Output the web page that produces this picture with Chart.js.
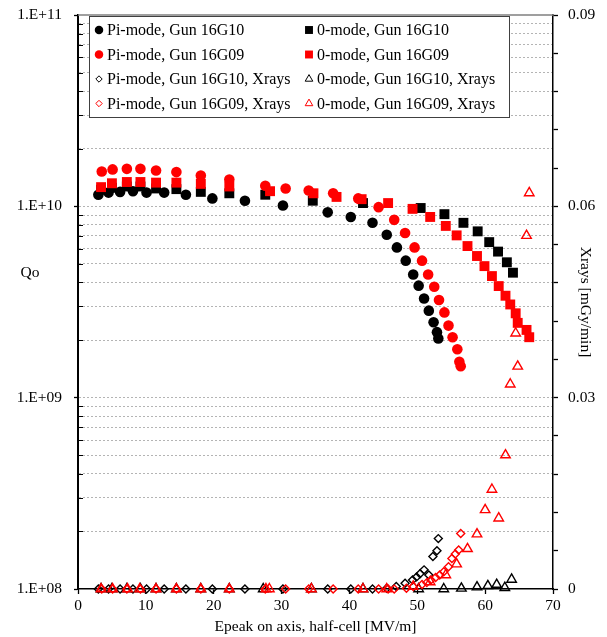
<!DOCTYPE html>
<html>
<head>
<meta charset="utf-8">
<title>Qo and Xrays vs Epeak</title>
<script src="https://cdn.jsdelivr.net/npm/chart.js@4.4.0/dist/chart.umd.min.js"></script>
<style>
  html, body { margin: 0; padding: 0; background: #fff; }
</style>
</head>
<body>
<canvas id="myChart" width="607" height="637"></canvas>
<script>
// Epeak [MV/m] and Qo, pi-mode, gun 16G10
const piG10E = [3.0, 4.5, 6.2, 8.1, 10.1, 12.7, 15.9, 19.8, 24.6, 30.2, 36.8, 40.2, 43.4, 45.5, 47.0, 48.3, 49.4, 50.2, 51.0, 51.7, 52.4, 52.9, 53.1];
const piG10Q = [1.15e10, 1.18e10, 1.19e10, 1.20e10, 1.18e10, 1.18e10, 1.15e10, 1.10e10, 1.07e10, 1.01e10, 9.3e9, 8.8e9, 8.2e9, 7.1e9, 6.1e9, 5.2e9, 4.4e9, 3.85e9, 3.3e9, 2.85e9, 2.48e9, 2.2e9, 2.04e9];

// pi-mode, gun 16G09
const piG09E = [3.5, 5.1, 7.2, 9.2, 11.5, 14.5, 18.1, 22.3, 27.6, 30.6, 34.0, 37.6, 41.3, 44.3, 46.6, 48.2, 49.6, 50.7, 51.6, 52.5, 53.2, 54.0, 54.6, 55.2, 55.9, 56.2, 56.4];
const piG09Q = [1.52e10, 1.56e10, 1.57e10, 1.57e10, 1.54e10, 1.51e10, 1.45e10, 1.38e10, 1.28e10, 1.24e10, 1.21e10, 1.17e10, 1.10e10, 9.9e9, 8.5e9, 7.25e9, 6.1e9, 5.2e9, 4.4e9, 3.8e9, 3.24e9, 2.79e9, 2.38e9, 2.07e9, 1.79e9, 1.54e9, 1.46e9];

// 0-mode, gun 16G10
const zeroG10E = [3.4, 5.0, 7.2, 9.2, 11.5, 14.5, 18.1, 22.3, 27.6, 34.6, 42.0, 50.5, 54.0, 56.8, 58.9, 60.6, 61.9, 63.2, 64.1];
const zeroG10Q = [1.22e10, 1.25e10, 1.27e10, 1.27e10, 1.24e10, 1.23e10, 1.19e10, 1.17e10, 1.15e10, 1.07e10, 1.04e10, 9.8e9, 9.1e9, 8.2e9, 7.4e9, 6.5e9, 5.8e9, 5.1e9, 4.5e9];

// 0-mode, gun 16G09
const zeroG09E = [3.4, 5.0, 7.2, 9.2, 11.5, 14.5, 18.1, 22.3, 28.3, 34.7, 38.1, 41.8, 45.7, 49.3, 51.9, 54.2, 55.8, 57.4, 58.8, 59.9, 61.0, 62.0, 63.0, 63.7, 64.5, 64.8, 66.1, 66.5];
const zeroG09Q = [1.26e10, 1.32e10, 1.34e10, 1.34e10, 1.33e10, 1.33e10, 1.31e10, 1.27e10, 1.20e10, 1.17e10, 1.12e10, 1.09e10, 1.04e10, 9.7e9, 8.8e9, 7.9e9, 7.05e9, 6.2e9, 5.5e9, 4.87e9, 4.32e9, 3.83e9, 3.41e9, 3.07e9, 2.76e9, 2.46e9, 2.26e9, 2.07e9];

// Xrays [mGy/min]
const piG10XE = [3.0, 4.5, 6.2, 8.1, 10.1, 12.7, 15.9, 19.8, 24.6, 30.2, 36.8, 40.2, 43.4, 45.5, 46.9, 48.2, 49.3, 49.9, 50.4, 51.0, 51.7, 52.3, 52.9, 53.1];
const piG10X = [0, 0, 0, 0, 0, 0, 0, 0, 0, 0, 0, 0, 0, 0.0001, 0.0004, 0.0009, 0.0014, 0.0019, 0.0024, 0.0030, 0.0022, 0.0051, 0.0060, 0.0079];

const piG09XE = [3.5, 5.1, 7.2, 9.2, 11.5, 14.5, 18.1, 22.3, 27.6, 30.6, 34.0, 37.6, 41.3, 44.3, 45.7, 46.6, 48.4, 49.4, 50.7, 51.4, 52.0, 52.7, 53.3, 53.9, 54.6, 55.1, 55.6, 56.1, 56.4];
const piG09X = [0, 0, 0, 0, 0, 0, 0, 0, 0, 0, 0, 0, 0, 0, 0, 0, 0.0001, 0.0004, 0.0007, 0.0010, 0.0014, 0.0018, 0.0022, 0.0027, 0.0035, 0.0048, 0.0055, 0.0061, 0.0087];

const zeroG10XE = [3.4, 5.0, 7.2, 9.2, 11.5, 14.5, 18.1, 22.3, 27.3, 34.4, 42.0, 50.2, 53.9, 56.5, 58.8, 60.4, 61.7, 62.9, 63.9];
const zeroG10X = [0, 0, 0, 0, 0, 0, 0, 0, 0, 0, 0, 0, 0, 0.0001, 0.0003, 0.0005, 0.0007, 0.0002, 0.0015];

const zeroG09XE = [3.4, 5.1, 7.3, 9.1, 11.5, 14.5, 18.1, 22.3, 27.7, 28.2, 34.4, 42.0, 45.5, 49.4, 51.9, 54.2, 55.8, 57.4, 58.8, 60.0, 61.0, 62.0, 63.0, 63.7, 64.5, 64.8, 66.1, 66.5];
const zeroG09X = [0, 0, 0, 0, 0, 0, 0, 0, 0, 0, 0, 0, 0, 0.0004, 0.0011, 0.0022, 0.0039, 0.0063, 0.0086, 0.0124, 0.0156, 0.0111, 0.0210, 0.0321, 0.0401, 0.0349, 0.0554, 0.0621];

// axis ticks
const xTicks = [0, 10, 20, 30, 40, 50, 60, 70];
const qDecades = [1e8, 1e9, 1e10, 1e11];
const xrayTicks = [0, 0.03, 0.06, 0.09];

const FONT = "'Liberation Serif', 'Times New Roman', serif";
const BLACK = '#000000';
const RED = '#ff0000';

function pts(xs, ys) {
  return xs.map((x, i) => ({ x: x, y: ys[i] }));
}

// all 1..9 x 10^n values between 1e8 and 1e11, for grid lines
const qTicks = [];
for (let e = 8; e < 11; e++) {
  for (let m = 1; m <= 9; m++) qTicks.push(m * Math.pow(10, e));
}
qTicks.push(1e11);

function isDecade(v) {
  return qDecades.some(d => Math.abs(v - d) / d < 1e-9);
}

function decadeLabel(v) {
  const e = Math.round(Math.log10(v));
  return '1.E+' + String(e).padStart(2, '0');
}

// minor steps on the Xrays axis
const xrayMinor = [];
for (let i = 0; i <= 15; i++) xrayMinor.push(+(i * 0.006).toFixed(3));

// fixed side width, and no extra room kept for the end labels
function fixWidth(w) {
  return s => {
    s.width = w;
    s.paddingTop = 0;
    s.paddingBottom = 0;
  };
}

const series = [
  { label: 'Pi-mode, Gun 16G10', data: pts(piG10E, piG10Q), axis: 'y', style: 'circle', color: BLACK, open: false, r: 5.3 },
  { label: '0-mode, Gun 16G10', data: pts(zeroG10E, zeroG10Q), axis: 'y', style: 'rect', color: BLACK, open: false, r: 7 },
  { label: 'Pi-mode, Gun 16G09', data: pts(piG09E, piG09Q), axis: 'y', style: 'circle', color: RED, open: false, r: 5.3 },
  { label: '0-mode, Gun 16G09', data: pts(zeroG09E, zeroG09Q), axis: 'y', style: 'rect', color: RED, open: false, r: 7 },
  { label: 'Pi-mode, Gun 16G10, Xrays', data: pts(piG10XE, piG10X), axis: 'y2', style: 'rectRot', color: BLACK, open: true, r: 4 },
  { label: '0-mode, Gun 16G10, Xrays', data: pts(zeroG10XE, zeroG10X), axis: 'y2', style: 'triangle', color: BLACK, open: true, r: 5.5 },
  { label: 'Pi-mode, Gun 16G09, Xrays', data: pts(piG09XE, piG09X), axis: 'y2', style: 'rectRot', color: RED, open: true, r: 4 },
  { label: '0-mode, Gun 16G09, Xrays', data: pts(zeroG09XE, zeroG09X), axis: 'y2', style: 'triangle', color: RED, open: true, r: 5.5 }
];

// later entries are drawn on top
const datasets = series.map((s, i) => ({
  label: s.label,
  data: s.data,
  yAxisID: s.axis,
  showLine: false,
  clip: false,
  order: series.length - i,
  pointStyle: s.style,
  pointRadius: s.r,
  pointHoverRadius: s.r,
  pointBackgroundColor: s.open ? 'rgba(0,0,0,0)' : s.color,
  pointBorderColor: s.color,
  pointBorderWidth: s.open ? 1.4 : 0
}));

// legend, titles, top edge and inner minor ticks
const decor = {
  id: 'decor',
  beforeDatasetsDraw(chart) {
    const { ctx, chartArea: a, scales } = chart;
    ctx.save();
    ctx.strokeStyle = '#7f7f7f';
    ctx.lineWidth = 1.5;
    ctx.beginPath();
    ctx.moveTo(a.left, a.top);
    ctx.lineTo(a.right, a.top);
    ctx.stroke();

    ctx.strokeStyle = BLACK;
    ctx.lineWidth = 1;
    ctx.beginPath();
    qTicks.forEach(v => {
      if (isDecade(v)) return;
      const y = Math.round(scales.y.getPixelForValue(v)) + 0.5;
      ctx.moveTo(a.left, y);
      ctx.lineTo(a.left + 5, y);
    });
    ctx.stroke();
    ctx.restore();
  },
  afterDraw(chart) {
    const { ctx, chartArea: a } = chart;
    ctx.save();
    ctx.fillStyle = BLACK;
    ctx.font = '15.5px ' + FONT;
    ctx.textBaseline = 'middle';

    ctx.textAlign = 'center';
    ctx.fillText('Qo', 30, 273);
    ctx.fillText('Epeak on axis, half-cell [MV/m]', (a.left + a.right) / 2, 627);

    ctx.save();
    ctx.translate(585, (a.top + a.bottom) / 2);
    ctx.rotate(Math.PI / 2);
    ctx.fillText('Xrays [mGy/min]', 0, 0);
    ctx.restore();

    // legend box
    const bx = a.left + 11, by = 16, bw = 420, bh = 101;
    ctx.fillStyle = '#ffffff';
    ctx.fillRect(bx, by, bw, bh);
    ctx.strokeStyle = '#404040';
    ctx.lineWidth = 1;
    ctx.strokeRect(bx + 0.5, by + 0.5, bw, bh);

    const legendOrder = [0, 1, 2, 3, 4, 5, 6, 7];
    ctx.font = '16px ' + FONT;
    ctx.textAlign = 'left';
    legendOrder.forEach((idx, k) => {
      const s = series[idx];
      const col = k % 2, row = Math.floor(k / 2);
      const mx = col === 0 ? bx + 10 : bx + 220;
      const my = by + 14 + row * 24.5;
      ctx.fillStyle = s.open ? 'rgba(0,0,0,0)' : s.color;
      ctx.strokeStyle = s.color;
      Chart.helpers.drawPoint(ctx, {
        pointStyle: s.style,
        radius: s.r * 0.8,
        borderWidth: s.open ? 1.4 : 0,
        rotation: 0
      }, mx, my);
      ctx.fillStyle = BLACK;
      ctx.fillText(s.label, mx + 8, my + 1);
    });
    ctx.restore();
  }
};

const tickFont = { family: FONT, size: 15.5 };

new Chart(document.getElementById('myChart').getContext('2d'), {
  type: 'scatter',
  data: { datasets },
  plugins: [decor],
  options: {
    responsive: false,
    animation: false,
    events: [],
    layout: { padding: { top: 15, right: 0, left: 0, bottom: 0 } },
    plugins: {
      legend: { display: false },
      tooltip: { enabled: false }
    },
    scales: {
      x: {
        type: 'linear',
        min: 0,
        max: 70,
        afterBuildTicks: s => { s.ticks = xTicks.map(v => ({ value: v })); },
        afterFit: s => { s.height = 48; },
        ticks: { font: tickFont, color: BLACK, padding: 3, maxRotation: 0 },
        grid: { drawOnChartArea: false, tickLength: 5, tickColor: BLACK, tickWidth: 1.3 },
        border: { color: BLACK, width: 1.5 }
      },
      y: {
        type: 'logarithmic',
        position: 'left',
        min: 1e8,
        max: 1e11,
        afterBuildTicks: s => { s.ticks = qTicks.map(v => ({ value: v })); },
        afterFit: fixWidth(78),
        ticks: {
          autoSkip: false,
          font: tickFont,
          color: BLACK,
          padding: 12,
          callback: v => isDecade(v) ? decadeLabel(v) : ''
        },
        grid: {
          tickLength: 4,
          lineWidth: 1,
          color: c => (c.tick && (c.tick.value === 1e8 || c.tick.value === 1e11)) ? 'rgba(0,0,0,0)' : '#b4b4b4',
          tickColor: c => (c.tick && isDecade(c.tick.value)) ? BLACK : 'rgba(0,0,0,0)',
          tickWidth: 1.3
        },
        border: { color: BLACK, width: 2, dash: [2, 2] }
      },
      y2: {
        type: 'linear',
        position: 'right',
        min: 0,
        max: 0.09,
        afterBuildTicks: s => { s.ticks = xrayMinor.map(v => ({ value: v })); },
        afterFit: fixWidth(54),
        ticks: {
          autoSkip: false,
          font: tickFont,
          color: BLACK,
          padding: 10,
          callback: v => {
            const hit = xrayTicks.find(t => Math.abs(t - v) < 1e-6);
            return hit === undefined ? '' : String(hit);
          }
        },
        grid: { drawOnChartArea: false, tickLength: 5, tickColor: BLACK, tickWidth: 1.3 },
        border: { color: BLACK, width: 1.5 }
      }
    }
  }
});
</script>
</body>
</html>
